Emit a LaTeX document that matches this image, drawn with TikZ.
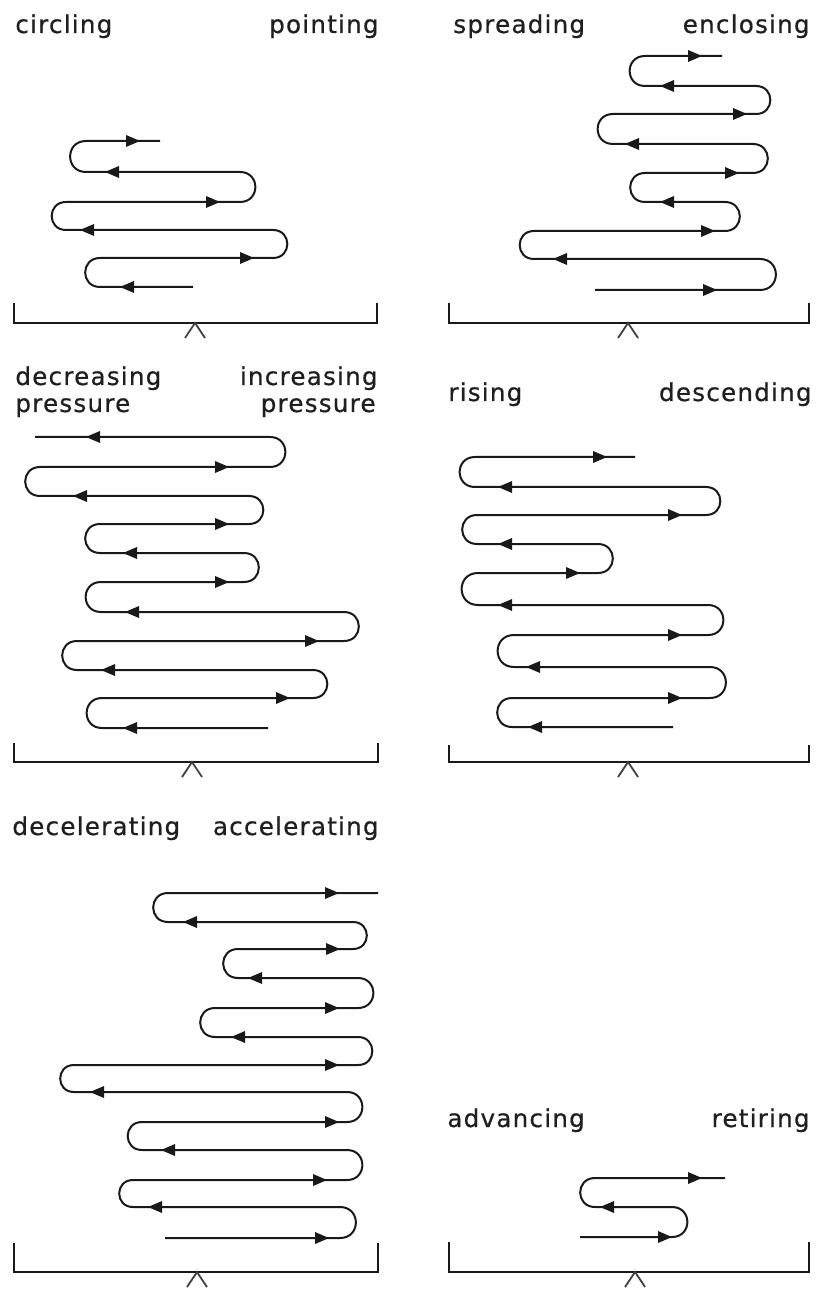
\documentclass[tikz,border=0pt]{standalone}
\usepackage{fontspec}
\setmainfont[LetterSpace=5,FakeBold=0.6]{DejaVu Sans}
\begin{document}
\begin{tikzpicture}[x=0.5pt,y=-0.5pt,
  serp/.style={draw=black!90,line width=1pt},
  brk/.style={draw=black!90,line width=1.4pt},
  caret/.style={draw=black!75,line width=0.9pt},
  lpR/.style={out=0,in=0,looseness=1.75},
  lpL/.style={out=180,in=180,looseness=1.75},
  lbl/.style={inner sep=0pt,font=\fontsize{12.3}{14}\selectfont,text=black!88},
  arR/.pic={\fill[black!90] (-7,-6) -- (7,0) -- (-7,6) -- cycle;},
  arL/.pic={\fill[black!90] (7,-6) -- (-7,0) -- (7,6) -- cycle;}]
\useasboundingbox (0,0) rectangle (819,1293);

% ---------- panel 1: circling / pointing
\node[lbl,anchor=base west] (t1a) at (15,33) {circling};
\node[lbl,anchor=base east] (t1b) at (379,33) {pointing};
\draw[serp] (160,141) -- (86,141) to[lpL] (86,172) -- (240,172) to[lpR] (240,202)
  -- (66,202) to[lpL] (66,230) -- (273,230) to[lpR] (273,258) -- (100,258)
  to[lpL] (100,287) -- (193,287);
\pic at (133,141) {arR}; \pic at (112,172) {arL}; \pic at (213,202) {arR};
\pic at (87,230) {arL}; \pic at (247,258) {arR}; \pic at (127,287) {arL};
\draw[brk] (14,303) -- (14,323) -- (377,323) -- (377,303);
\draw[caret] (185,338) -- (195,323) -- (205,338);

% ---------- panel 2: spreading / enclosing
\node[lbl,anchor=base west] (t2a) at (453,33) {spreading};
\node[lbl,anchor=base east] (t2b) at (810,33) {enclosing};
\draw[serp] (722,56) -- (645,56) to[lpL] (645,86) -- (756,86) to[lpR] (756,114)
  -- (613,114) to[lpL] (613,144) -- (753,144) to[lpR] (753,173) -- (645,173)
  to[lpL] (645,202) -- (725,202) to[lpR] (725,231) -- (534,231) to[lpL] (534,259)
  -- (760,259) to[lpR] (760,290) -- (595,290);
\pic at (695,56) {arR}; \pic at (667,86) {arL}; \pic at (740,114) {arR};
\pic at (632,144) {arL}; \pic at (732,173) {arR}; \pic at (667,202) {arL};
\pic at (708,231) {arR}; \pic at (560,259) {arL}; \pic at (710,290) {arR};
\draw[brk] (449,303) -- (449,323) -- (809,323) -- (809,303);
\draw[caret] (618,338) -- (628,323) -- (638,338);

% ---------- panel 3: decreasing / increasing pressure
\node[lbl,anchor=base west] (t3a) at (15,385) {decreasing};
\node[lbl,anchor=base west] (t3b) at (15,412) {pressure};
\node[lbl,anchor=base east] (t3c) at (378,385) {increasing};
\node[lbl,anchor=base east] (t3d) at (376,412) {pressure};
\draw[serp] (35,437) -- (270,437) to[lpR] (270,467) -- (40,467) to[lpL] (40,496)
  -- (249,496) to[lpR] (249,524) -- (100,524) to[lpL] (100,553) -- (244,553)
  to[lpR] (244,582) -- (101,582) to[lpL] (101,612) -- (344,612) to[lpR] (344,641)
  -- (77,641) to[lpL] (77,670) -- (313,670) to[lpR] (313,698) -- (102,698)
  to[lpL] (102,728) -- (268,728);
\pic at (93,437) {arL}; \pic at (222,467) {arR}; \pic at (80,496) {arL};
\pic at (222,524) {arR}; \pic at (130,553) {arL}; \pic at (222,582) {arR};
\pic at (132,612) {arL}; \pic at (312,641) {arR}; \pic at (108,670) {arL};
\pic at (283,698) {arR}; \pic at (130,728) {arL};
\draw[brk] (14,743) -- (14,762) -- (378,762) -- (378,743);
\draw[caret] (182,777) -- (192,762) -- (202,777);

% ---------- panel 4: rising / descending
\node[lbl,anchor=base west] (t4a) at (448,401) {rising};
\node[lbl,anchor=base east] (t4b) at (812,401) {descending};
\draw[serp] (635,457) -- (475,457) to[lpL] (475,487) -- (706,487) to[lpR] (706,515)
  -- (477,515) to[lpL] (477,544) -- (598,544) to[lpR] (598,573) -- (478,573)
  to[lpL] (478,605) -- (708,605) to[lpR] (708,635) -- (514,635) to[lpL] (514,667)
  -- (710,667) to[lpR] (710,698) -- (512,698) to[lpL] (512,727) -- (673,727);
\pic at (600,457) {arR}; \pic at (505,487) {arL}; \pic at (675,515) {arR};
\pic at (505,544) {arL}; \pic at (573,573) {arR}; \pic at (505,605) {arL};
\pic at (675,635) {arR}; \pic at (533,667) {arL}; \pic at (675,698) {arR};
\pic at (535,727) {arL};
\draw[brk] (449,745) -- (449,762) -- (809,762) -- (809,745);
\draw[caret] (618,777) -- (628,762) -- (638,777);

% ---------- panel 5: decelerating / accelerating
\node[lbl,anchor=base west] (t5a) at (12,835) {decelerating};
\node[lbl,anchor=base east] (t5b) at (379,835) {accelerating};
\draw[serp] (378,893) -- (168,893) to[lpL] (168,922) -- (353,922) to[lpR] (353,949)
  -- (238,949) to[lpL] (238,978) -- (358,978) to[lpR] (358,1008) -- (215,1008)
  to[lpL] (215,1037) -- (358,1037) to[lpR] (358,1065) -- (74,1065) to[lpL] (74,1092)
  -- (347,1092) to[lpR] (347,1122) -- (142,1122) to[lpL] (142,1150) -- (347,1150)
  to[lpR] (347,1180) -- (133,1180) to[lpL] (133,1207) -- (340,1207) to[lpR] (340,1238)
  -- (165,1238);
\pic at (332,893) {arR}; \pic at (190,922) {arL}; \pic at (333,949) {arR};
\pic at (255,978) {arL}; \pic at (332,1008) {arR}; \pic at (238,1037) {arL};
\pic at (332,1065) {arR}; \pic at (97,1092) {arL}; \pic at (332,1122) {arR};
\pic at (168,1150) {arL}; \pic at (320,1180) {arR}; \pic at (155,1207) {arL};
\pic at (322,1238) {arR};
\draw[brk] (14,1243) -- (14,1272) -- (378,1272) -- (378,1243);
\draw[caret] (187,1287) -- (197,1272) -- (207,1287);

% ---------- panel 6: advancing / retiring
\node[lbl,anchor=base west] (t6a) at (447,1127) {advancing};
\node[lbl,anchor=base east] (t6b) at (810,1127) {retiring};
\draw[serp] (725,1178) -- (595,1178) to[lpL] (595,1207) -- (672,1207) to[lpR] (672,1237)
  -- (580,1237);
\pic at (695,1178) {arR}; \pic at (607,1207) {arL}; \pic at (665,1237) {arR};
\draw[brk] (449,1242) -- (449,1272) -- (809,1272) -- (809,1242);
\draw[caret] (625,1287) -- (635,1272) -- (645,1287);
\end{tikzpicture}
\end{document}
